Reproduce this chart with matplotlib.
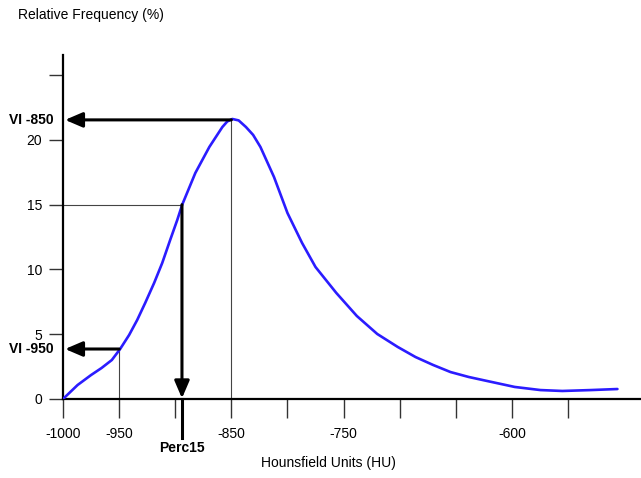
import matplotlib
matplotlib.use("Agg")
import matplotlib.pyplot as plt
from matplotlib.transforms import blended_transform_factory

plt.rcParams['font.family'] = ['Liberation Sans', 'DejaVu Sans']

# Curve data (HU, relative frequency %)
hu = [-1000, -987.0, -975.0, -965.7, -956.5, -949.1, -941.1, -933.9, -926.8,
      -918.8, -911.6, -904.5, -898.2, -893.8, -882.1, -869.6, -858.0, -853.6,
      -849.1, -843.5, -837.0, -830.6, -824.1, -812.0, -800.0, -787.0, -775.0,
      -756.5, -738.2, -720.0, -701.8, -685.9, -670.3, -654.7, -638.5, -622.1,
      -597.5, -574.6, -555.1, -529.7, -506.0]
freq = [0.0, 1.08, 1.85, 2.39, 3.01, 3.86, 4.94, 6.10, 7.41,
        8.96, 10.50, 12.28, 13.82, 15.0, 17.45, 19.46, 21.0, 21.43,
        21.62, 21.51, 21.0, 20.39, 19.46, 17.14, 14.36, 12.05, 10.19,
        8.19, 6.41, 5.02, 4.02, 3.24, 2.63, 2.08, 1.70, 1.39,
        0.93, 0.69, 0.62, 0.69, 0.77]

xticks = [-1000, -950, -900, -850, -800, -750, -700, -650, -600, -550]
xticklabels = ['-1000', '-950', '', '-850', '', '-750', '', '', '-600', '']
yticks = [0, 5, 10, 15, 20, 25]
yticklabels = ['0', '5', '10', '15', '20', '']

peak_hu, peak_freq = -850, 21.55
vi950_hu, vi950_freq = -950, 3.86
perc15_hu, perc15_freq = -894, 15.0

W, H = 641, 478
fig = plt.figure(figsize=(W / 100, H / 100), dpi=100)
ax = fig.add_axes([63 / W, 79 / H, 578 / W, 344 / H])

ax.set_xlim(-1000, -485)
ax.set_ylim(0, 26.56)

for s in ['top', 'right']:
    ax.spines[s].set_visible(False)
for s in ['left', 'bottom']:
    ax.spines[s].set_linewidth(1.6)
    ax.spines[s].set_color('black')

ax.set_xticks(xticks)
ax.set_xticklabels(xticklabels)
ax.set_yticks(yticks)
ax.set_yticklabels(yticklabels)
ax.tick_params(axis='x', length=13.5, width=1.0, pad=6.5, color='#333333', labelsize=10)
ax.tick_params(axis='y', length=10, width=1.0, pad=5, color='#333333', labelsize=10)

# guide lines
ax.plot([vi950_hu, vi950_hu], [0, vi950_freq], color='#444444', lw=0.8, zorder=2)
ax.plot([peak_hu, peak_hu], [0, peak_freq], color='#444444', lw=0.8, zorder=2)
ax.plot([-1000, perc15_hu], [perc15_freq, perc15_freq], color='#444444', lw=0.8, zorder=2)

# curve
ax.plot(hu, freq, color='#2b1cff', lw=1.9, solid_capstyle='round',
        solid_joinstyle='round', zorder=4)

aprops = dict(arrowstyle='-|>,head_length=1.05,head_width=0.45', lw=2.2,
              color='black', shrinkA=0, shrinkB=1.5)
ax.annotate('', xy=(-1000, peak_freq), xytext=(peak_hu, peak_freq),
            arrowprops=aprops, annotation_clip=False, zorder=5)
ax.annotate('', xy=(-1000, vi950_freq), xytext=(vi950_hu, vi950_freq),
            arrowprops=aprops, annotation_clip=False, zorder=5)
ax.annotate('', xy=(perc15_hu, 0), xytext=(perc15_hu, perc15_freq),
            arrowprops=dict(aprops, shrinkB=0.5), annotation_clip=False, zorder=5)

bt = blended_transform_factory(ax.transData, ax.transAxes)
ax.plot([perc15_hu, perc15_hu], [0, -39 / 344], transform=bt, color='black',
        lw=2.2, clip_on=False, zorder=5)
ax.text(perc15_hu, -49 / 344, 'Perc15', transform=bt, ha='center', va='center',
        fontsize=10, fontweight='bold')

lt = blended_transform_factory(ax.transAxes, ax.transData)
ax.text(-9 / 578, peak_freq, 'VI -850', transform=lt, ha='right', va='center',
        fontsize=10, fontweight='bold')
ax.text(-9 / 578, vi950_freq, 'VI -950', transform=lt, ha='right', va='center',
        fontsize=10, fontweight='bold')

fig.text(18 / W, 1 - 15 / H, 'Relative Frequency (%)', ha='left', va='center', fontsize=10)
fig.text(328 / W, 1 - 463 / H, 'Hounsfield Units (HU)', ha='center', va='center', fontsize=10)

fig.savefig('out.png', dpi=100)
